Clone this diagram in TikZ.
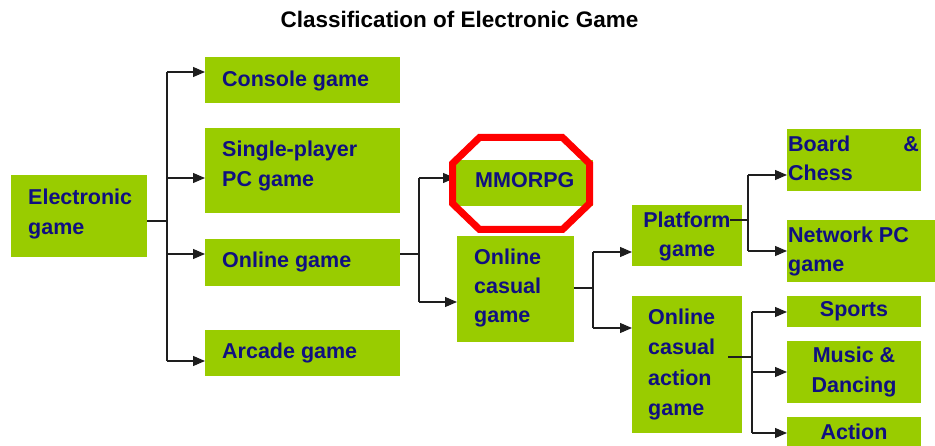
\documentclass[tikz,border=0pt]{standalone}
\usepackage{fontspec}
\setmainfont{Liberation Sans}
\usetikzlibrary{arrows.meta}
\definecolor{leaf}{RGB}{153,204,0}
\definecolor{ink}{RGB}{16,16,128}
\definecolor{wire}{RGB}{30,30,30}
\definecolor{stopred}{RGB}{255,0,0}
\tikzset{
  box/.style={fill=leaf, draw=none, inner sep=0pt, anchor=north west},
  lbl/.style={text=ink, font=\fontsize{21.5}{26}\selectfont\bfseries, inner sep=0pt},
  wireline/.style={draw=wire, line width=1.1pt},
  arr/.style={wireline, -{Triangle[length=12pt,width=10pt]}},
}
\begin{document}
\begin{tikzpicture}[x=1pt,y=-1pt]
\useasboundingbox (0,0) rectangle (935,446);

% title
\node[font=\fontsize{22.5}{27}\selectfont\bfseries, inner sep=0pt, anchor=base] (title) at (459.5,28) {Classification of Electronic Game};

% boxes
\node[box, minimum width=136pt, minimum height=82pt]  (eg)       at (11,175)  {};
\node[box, minimum width=195pt, minimum height=46pt]  (console)  at (205,57)  {};
\node[box, minimum width=195pt, minimum height=85pt]  (single)   at (205,128) {};
\node[box, minimum width=195pt, minimum height=47pt]  (online)   at (205,239) {};
\node[box, minimum width=195pt, minimum height=46pt]  (arcade)   at (205,330) {};
\node[box, minimum width=138pt, minimum height=46pt]  (mmorpg)   at (455,160) {};
\node[box, minimum width=117pt, minimum height=106pt] (casual)   at (457,236) {};
\node[box, minimum width=110pt, minimum height=61pt]  (platform) at (632,205) {};
\node[box, minimum width=110pt, minimum height=137pt] (action)   at (632,296) {};
\node[box, minimum width=134pt, minimum height=62pt]  (board)    at (787,129) {};
\node[box, minimum width=148pt, minimum height=62pt]  (netpc)    at (787,220) {};
\node[box, minimum width=134pt, minimum height=31pt]  (sports)   at (787,296) {};
\node[box, minimum width=134pt, minimum height=62pt]  (music)    at (787,341) {};
\node[box, minimum width=134pt, minimum height=29pt]  (act)      at (787,417) {};

% labels
\node[lbl, anchor=base west] (eg-1) at (28,205) {Electronic};
\node[lbl, anchor=base west] (eg-2) at (28,235) {game};
\node[lbl, anchor=base west] (console-1) at (222,87) {Console game};
\node[lbl, anchor=base west] (single-1) at (222,157) {Single-player};
\node[lbl, anchor=base west] (single-2) at (222,187) {PC game};
\node[lbl, anchor=base west] (online-1) at (222,268) {Online game};
\node[lbl, anchor=base west] (arcade-1) at (222,359) {Arcade game};
\node[lbl, anchor=base west] (mmorpg-1) at (475,188) {MMORPG};
\node[lbl, anchor=base west] (casual-1) at (474,265) {Online};
\node[lbl, anchor=base west] (casual-2) at (474,294) {casual};
\node[lbl, anchor=base west] (casual-3) at (474,323) {game};
\node[lbl, anchor=base] (platform-1) at (687,228) {Platform};
\node[lbl, anchor=base] (platform-2) at (687,257) {game};
\node[lbl, anchor=base west] (action-1) at (648,325) {Online};
\node[lbl, anchor=base west] (action-2) at (648,355) {casual};
\node[lbl, anchor=base west] (action-3) at (648,385) {action};
\node[lbl, anchor=base west] (action-4) at (648,415) {game};
\node[lbl, anchor=base west] (board-1) at (788,152) {Board};
\node[lbl, anchor=base east] (board-2) at (919,152) {\&};
\node[lbl, anchor=base west] (board-3) at (788,181) {Chess};
\node[lbl, anchor=base west] (netpc-1) at (788,243) {Network PC};
\node[lbl, anchor=base west] (netpc-2) at (788,272) {game};
\node[lbl, anchor=base] (sports-1) at (854,317) {Sports};
\node[lbl, anchor=base] (music-1) at (854,363) {Music \&};
\node[lbl, anchor=base] (music-2) at (854,393) {Dancing};
\node[lbl, anchor=base] (act-1) at (854,439) {Action};

% branch points
\coordinate (b1) at (167,221);
\coordinate (b2) at (419,254);
\coordinate (b3) at (593,288);
\coordinate (b4) at (748,220);
\coordinate (b5) at (752,357);

% Electronic game -> four kinds
\draw[wireline] (eg.east |- b1) -- (b1);
\draw[wireline] (b1 |- 0,72) -- (b1 |- 0,361);
\draw[arr] (b1 |- 0,72)  -- (console.west |- 0,72);
\draw[arr] (b1 |- 0,178) -- (single.west |- 0,178);
\draw[arr] (b1 |- 0,254) -- (online.west |- 0,254);
\draw[arr] (b1 |- 0,361) -- (arcade.west |- 0,361);

% Online game -> MMORPG, casual
\draw[wireline] (online.east |- b2) -- (b2);
\draw[wireline] (b2 |- 0,178) -- (b2 |- 0,302);
\draw[arr] (b2 |- 0,178) -- (mmorpg.west |- 0,178);
\draw[arr] (b2 |- 0,302) -- (casual.west |- 0,302);

% Online casual game -> platform, action
\draw[wireline] (casual.east |- b3) -- (b3);
\draw[wireline] (b3 |- 0,252) -- (b3 |- 0,328);
\draw[arr] (b3 |- 0,252) -- (platform.west |- 0,252);
\draw[arr] (b3 |- 0,328) -- (action.west |- 0,328);

% Platform game -> board & chess, network PC
\draw[wireline] ([xshift=-12pt]platform.east |- b4) -- (b4);
\draw[wireline] (b4 |- 0,175) -- (b4 |- 0,251);
\draw[arr] (b4 |- 0,175) -- (board.west |- 0,175);
\draw[arr] (b4 |- 0,251) -- (netpc.west |- 0,251);

% Online casual action game -> sports, music, action
\draw[wireline] ([xshift=-14pt]action.east |- b5) -- (b5);
\draw[wireline] (b5 |- 0,312) -- (b5 |- 0,433);
\draw[arr] (b5 |- 0,312) -- (sports.west |- 0,312);
\draw[arr] (b5 |- 0,372) -- (music.west |- 0,372);
\draw[arr] (b5 |- 0,433) -- (act.west |- 0,433);

% red octagon round MMORPG
\draw[stopred, line width=7pt, line join=miter]
  (479.5,137.5) -- (562.5,137.5) -- (589.5,163.5) -- (589.5,203.5)
  -- (562.5,229.5) -- (479.5,229.5) -- (452.5,203.5) -- (452.5,163.5) -- cycle;
\end{tikzpicture}
\end{document}
